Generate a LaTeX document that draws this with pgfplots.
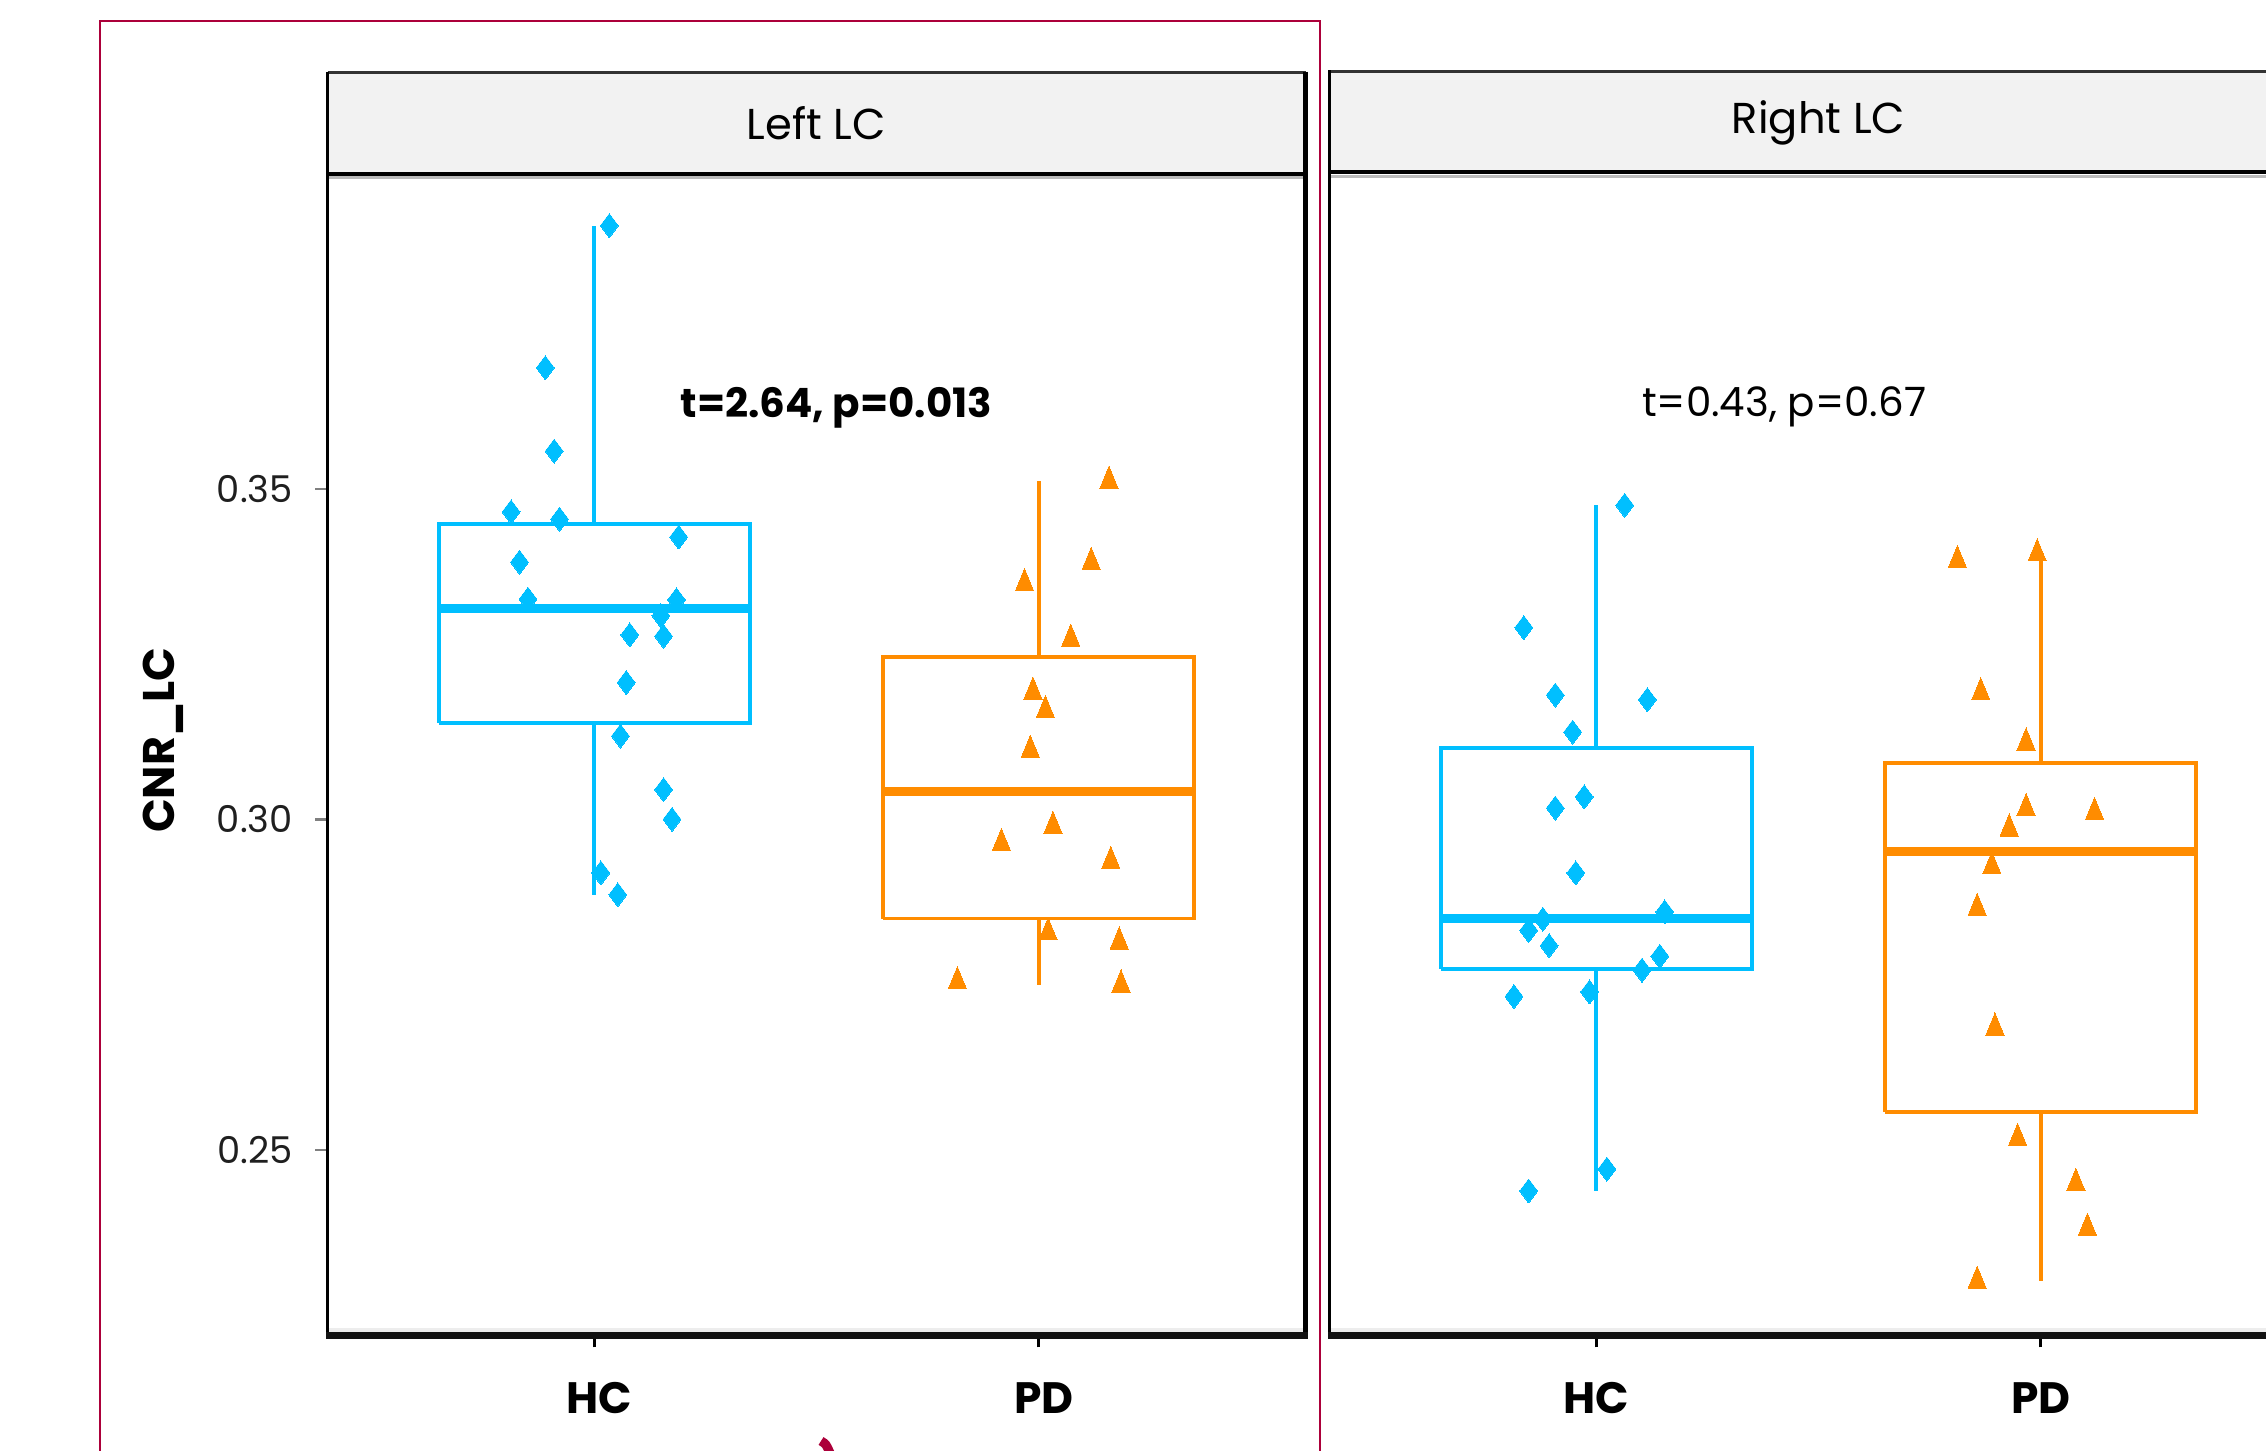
\documentclass[border=0pt]{standalone}
\usepackage{pgfplots}
\pgfplotsset{compat=1.18}
\usepackage{fontspec}
\setmainfont{Poppins}
\definecolor{hc}{HTML}{00BFFF}
\definecolor{pd}{HTML}{FF8C00}
\definecolor{framered}{RGB}{172,0,58}
\definecolor{stripfill}{HTML}{F2F2F2}
\pgfplotsset{
  panel/.style={
    scale only axis, width=9.78cm, height=11.615cm, anchor=south west,
    xmin=0.4, xmax=2.6, ymin=0.22194, ymax=0.39761,
    axis line style={draw=none},
    xtick={1,2}, xticklabels={HC,PD},
    xtick pos=bottom, ytick pos=left,
    tick align=outside, major tick length=0.12cm,
    xtick style={black, line width=0.85pt},
    ytick style={black!50, line width=0.65pt},
    xticklabel style={font=\fontsize{12.5}{15}\selectfont\bfseries, anchor=base, yshift=-0.66cm, inner sep=0pt},
    yticklabel style={font=\fontsize{10.5}{13}\selectfont, text=black!88, anchor=east, xshift=-0.22cm, inner sep=0pt},
    /pgf/number format/assume math mode=true,
    /pgf/number format/fixed, /pgf/number format/fixed zerofill, /pgf/number format/precision=2,
    clip=false,
  },
  hcpts/.style={only marks, mark=diamond*, mark size=3.4pt, color=hc, mark options={fill=hc, draw=hc, line width=0pt}},
  pdpts/.style={only marks, mark=triangle*, mark size=3.0pt, color=pd, mark options={fill=pd, draw=pd, line width=0pt, yscale=1.4}},
  boxline/.style={no markers, line width=1.1pt, line join=miter},
  medline/.style={no markers, line width=2.5pt},
}
\begin{document}
\begin{tikzpicture}
% ---------------- Left panel ----------------
\begin{axis}[panel, at={(3.275cm,-13.355cm)},
  ytick={0.25,0.30,0.35},
  xticklabel style={xshift=0.05cm},
  ylabel={CNR\_LC},
  ylabel style={font=\fontsize{12.6}{15}\selectfont\bfseries, at={(axis description cs:-0.168,0.5125)}, anchor=center},
]
% HC box: lw 0.2886, q1 0.3146, med 0.3319, q3 0.3447, uw 0.3898
\addplot[hc, boxline] coordinates {(1,0.3447) (1,0.3898)};
\addplot[hc, boxline] coordinates {(1,0.2886) (1,0.3146)};
\addplot[hc, boxline] coordinates {(0.65,0.3146) (1.35,0.3146) (1.35,0.3447) (0.65,0.3447) (0.65,0.3146)};
\addplot[hc, medline] coordinates {(0.65,0.3319) (1.35,0.3319)};
% PD box: lw 0.2750, q1 0.2850, med 0.3042, q3 0.3245, uw 0.3512
\addplot[pd, boxline] coordinates {(2,0.3245) (2,0.3512)};
\addplot[pd, boxline] coordinates {(2,0.2750) (2,0.2850)};
\addplot[pd, boxline] coordinates {(1.65,0.2850) (2.35,0.2850) (2.35,0.3245) (1.65,0.3245) (1.65,0.2850)};
\addplot[pd, medline] coordinates {(1.65,0.3042) (2.35,0.3042)};
\addplot[hcpts] coordinates {
(1.034,0.3898) (0.890,0.3683) (0.910,0.3557) (0.813,0.3465) (0.922,0.3454)
(1.190,0.3427) (0.832,0.3389) (0.851,0.3333) (1.185,0.3332) (1.150,0.3308)
(1.080,0.3279) (1.156,0.3277) (1.072,0.3207) (1.059,0.3126) (1.156,0.3045)
(1.175,0.3000) (1.015,0.2919) (1.053,0.2886)
};
\addplot[pdpts] coordinates {
(2.158,0.3512) (2.118,0.3389) (1.968,0.3357) (2.072,0.3273) (1.987,0.3193)
(2.015,0.3165) (1.981,0.3105) (2.032,0.2990) (1.916,0.2964) (2.162,0.2937)
(2.021,0.2829) (2.181,0.2815) (1.817,0.2755) (2.185,0.2750)
};
\node[font=\fontsize{11.5}{14}\selectfont\bfseries] at (axis cs:1.545,0.3623) {t=2.64, p=0.013};
\end{axis}
% ---------------- Right panel ----------------
\begin{axis}[panel, at={(13.295cm,-13.355cm)}, ytick=\empty]
% HC box: lw 0.2438, q1 0.2774, med 0.2850, q3 0.3108, uw 0.3475
\addplot[hc, boxline] coordinates {(1,0.3108) (1,0.3475)};
\addplot[hc, boxline] coordinates {(1,0.2438) (1,0.2774)};
\addplot[hc, boxline] coordinates {(0.65,0.2774) (1.35,0.2774) (1.35,0.3108) (0.65,0.3108) (0.65,0.2774)};
\addplot[hc, medline] coordinates {(0.65,0.2850) (1.35,0.2850)};
% PD box: lw 0.2302, q1 0.2557, med 0.2951, q3 0.3085, uw 0.3402
\addplot[pd, boxline] coordinates {(2,0.3085) (2,0.3402)};
\addplot[pd, boxline] coordinates {(2,0.2302) (2,0.2557)};
\addplot[pd, boxline] coordinates {(1.65,0.2557) (2.35,0.2557) (2.35,0.3085) (1.65,0.3085) (1.65,0.2557)};
\addplot[pd, medline] coordinates {(1.65,0.2951) (2.35,0.2951)};
\addplot[hcpts] coordinates {
(1.064,0.3475) (0.837,0.3290) (0.908,0.3188) (1.115,0.3181) (0.947,0.3132)
(0.973,0.3034) (0.908,0.3017) (0.954,0.2919) (1.154,0.2860) (0.880,0.2849)
(0.848,0.2832) (0.894,0.2809) (1.143,0.2793) (1.103,0.2772) (0.815,0.2732)
(0.985,0.2739) (1.024,0.2471) (0.848,0.2438)
};
\addplot[pdpts] coordinates {
(1.8125,0.3392) (1.992,0.3402) (1.865,0.3192) (1.967,0.3116) (1.967,0.3017)
(2.121,0.3011) (1.929,0.2986) (1.890,0.2929) (1.857,0.2866) (1.897,0.2685)
(1.948,0.2518) (2.079,0.2450) (2.105,0.2382) (1.857,0.2302)
};
\node[font=\fontsize{11.5}{14}\selectfont] at (axis cs:1.4226,0.3624) {t=0.43, p=0.67};
\end{axis}
% ---------------- Decorations (pixel units, y downward) ----------------
\begin{scope}[x=0.1mm, y=-0.1mm]
  % left strip
  \fill[stripfill] (327.5,71.7) rectangle (1305.5,174);
  \draw[black!80, line width=0.85pt] (327.5,72.8) -- (1305.5,72.8);
  \draw[black, line width=1.14pt] (327.5,174) -- (1305.5,174);
  \draw[black!27, line width=0.85pt] (329,177.5) -- (1303,177.5);
  \draw[black!7, line width=1.14pt] (329,1330) -- (1303,1330);
  \draw[black, line width=0.85pt] (327.5,71.7) -- (327.5,1339);
  \draw[black, line width=1.42pt] (1305.5,71.7) -- (1305.5,1339);
  \draw[black!93, line width=1.9pt] (326,1335.5) -- (1308,1335.5);
  \node[font=\fontsize{12.3}{15}\selectfont] at (816.5,123) {Left LC};
  % right strip
  \fill[stripfill] (1329.5,70.5) rectangle (2300,172.5);
  \draw[black!80, line width=0.85pt] (1329.5,71.5) -- (2300,71.5);
  \draw[black, line width=1.14pt] (1329.5,172.5) -- (2300,172.5);
  \draw[black!27, line width=0.85pt] (1331,176.5) -- (2300,176.5);
  \draw[black!7, line width=1.14pt] (1331,1330) -- (2300,1330);
  \draw[black, line width=0.85pt] (1329.5,70.5) -- (1329.5,1339);
  \draw[black!93, line width=1.9pt] (1328,1335.5) -- (2300,1335.5);
  \node[font=\fontsize{12.3}{15}\selectfont] at (1818.5,123) {Right LC};
  % red frame
  \draw[framered, line width=0.57pt] (100.3,1460) -- (100.3,20.7) -- (1319.7,20.7) -- (1319.7,1460);
  \draw[framered, line width=2.6pt] (821,1441) .. controls (826,1444) .. (830,1453);
  % bounding box
  \pgfresetboundingbox
  \path[use as bounding box] (0,0) rectangle (2266,1451);
\end{scope}
\end{tikzpicture}
\end{document}
